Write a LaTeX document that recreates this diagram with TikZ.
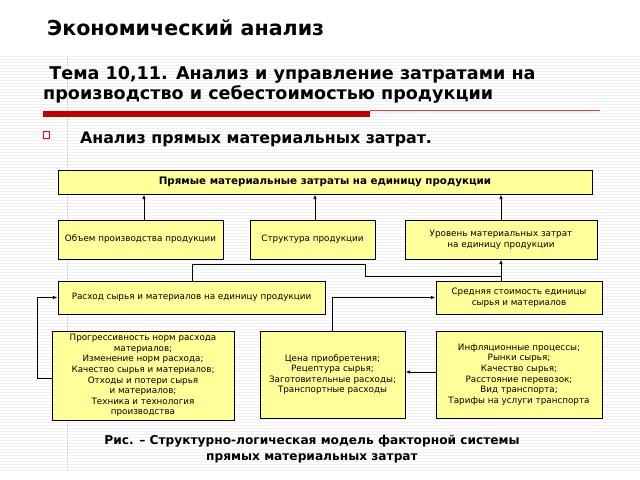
\documentclass[tikz,border=0pt]{standalone}
\usepackage{fontspec}
\setmainfont{DejaVu Sans}
\usetikzlibrary{calc}
\usetikzlibrary{arrows.meta}
\definecolor{boxyellow}{HTML}{FFFF99}
\definecolor{barred}{HTML}{C00000}
\tikzset{
  box/.style={draw, thick, fill=boxyellow, align=center, inner sep=1pt,
    font=\fontsize{7.5}{9}\selectfont},
  link/.style={thick, -{Latex[length=4pt,width=3pt]}},
  plain/.style={thick}
}
% box from pixel corners: name, x1, y1, x2, y2, text
\newcommand{\pbox}[6]{\node[box, minimum width=(#4-#2)*0.03cm, minimum height=(#5-#3)*0.03cm]
  (#1) at ({(#2+#4)/2},{(#3+#5)/2}) {#6};}
\begin{document}
\begin{tikzpicture}[x=0.03cm, y=-0.03cm]
    \useasboundingbox (0,0) rectangle (640,480);
    % stripes
    \foreach \y in {56,59,...,470} \draw[gray!12, line width=0.6pt] (0,\y) -- (640,\y);
    \draw[gray!25] (67,56) -- (67,470);
    % headings
    \node[anchor=west, font=\bfseries\fontsize{17.6}{20}\selectfont] (title) at (43,28) {Экономический анализ};
    \node[anchor=north west, align=left, font=\bfseries\fontsize{15}{17.5}\selectfont, inner sep=0pt]
      (theme) at (43,66) {\ Тема 10,11. Анализ и управление затратами на\\производство и себестоимостью продукции};
    \fill[barred] (43,111) rectangle (370,117);
    \draw[red!80] (370,110) -- (600,110);
    \draw[red, thick] (43,131) rectangle (49,138);
    \node[anchor=west, font=\bfseries\fontsize{13.5}{16}\selectfont] (bullet) at (76,139) {Анализ прямых материальных затрат.};
    % boxes
    \pbox{top}{58}{170}{592}{194}{\bfseries\fontsize{8.8}{10}\selectfont Прямые материальные затраты на единицу продукции}
    \pbox{volume}{58}{220}{223}{259}{Объем производства продукции}
    \pbox{struct}{250}{220}{375}{259}{Структура продукции}
    \pbox{level}{405}{220}{597}{259}{Уровень материальных затрат\\на единицу продукции}
    \pbox{usage}{58}{281}{325}{314}{Расход сырья и материалов на единицу продукции}
    \pbox{avgcost}{436}{281}{602}{314}{Средняя стоимость единицы\\сырья и материалов}
    \pbox{norms}{52}{331}{234}{420}{Прогрессивность норм расхода\\материалов;\\Изменение норм расхода;\\Качество сырья и материалов;\\Отходы и потери сырья\\и материалов;\\Техника и технология\\производства}
    \pbox{price}{260}{331}{405}{418}{Цена приобретения;\\Рецептура сырья;\\Заготовительные расходы;\\Транспортные расходы}
    \pbox{infl}{436}{331}{602}{418}{Инфляционные процессы;\\Рынки сырья;\\Качество сырья;\\Расстояние перевозок;\\Вид транспорта;\\Тарифы на услуги транспорта}
    % connectors
    \draw[link] (volume.north -| 144,0) -- (top.south -| 144,0);
    \draw[link] (struct.north -| 315,0) -- (top.south -| 315,0);
    \draw[link] (level.north -| 501,0) -- (top.south -| 501,0);
    \draw[plain] (usage.north -| 192,0) |- (365,264) |- (501,276);
    \draw[link] (avgcost.north -| 501,0) -- (level.south -| 501,0);
    \draw[link] (norms.west |- 0,378) -- (37,378) |- (usage.west);
    \draw[link] (price.north -| 332,0) |- (avgcost.west);
    \draw[link] (infl.west |- 0,372) -- (price.east |- 0,372);
    % caption
    \node[align=center, font=\bfseries\fontsize{10.4}{13}\selectfont] (caption) at (312,449)
      {Рис. – Структурно-логическая модель факторной системы\\прямых материальных затрат};
\end{tikzpicture}
\end{document}
